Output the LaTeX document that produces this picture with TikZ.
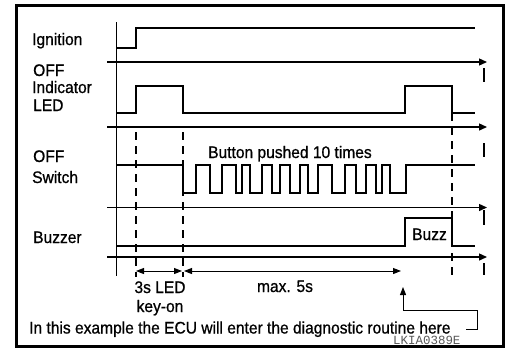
\documentclass[tikz,border=0pt]{standalone}
\usepackage{fontspec}
\setmainfont{Liberation Sans}[FakeStretch=0.93, FakeBold=0.8]
\newfontfamily\codefont{Liberation Mono}
\usetikzlibrary{arrows.meta}
\begin{document}
\begin{tikzpicture}[x=1bp,y=-1bp,
  lbl/.style={inner sep=0pt, font=\fontsize{16.8}{18}\selectfont},
  sig/.style={line width=1.2bp, line join=miter},
  axisline/.style={line width=1.3bp, -{Triangle[length=8bp,width=7bp]}},
  tickmark/.style={line width=2.2bp},
  guide/.style={line width=1.2bp, dash pattern=on 8bp off 6bp},
  dimarrow/.style={line width=1bp, {Triangle[length=8bp,width=6bp]}-{Triangle[length=8bp,width=6bp]}},
  callout/.style={line width=1bp, -{Triangle[length=8bp,width=6bp]}},
]
\useasboundingbox (0,0) rectangle (506,350);
\draw[line width=3bp] (16.5,5) rectangle (503,346.5);

% vertical axis
\draw[line width=1.3bp] (116.7,22) -- (116.7,276);

% time axes
\draw[axisline] (107,62) -- (487,62);
\draw[axisline] (107,127) -- (487,127);
\draw[axisline] (107,207.5) -- (487,207.5);
\draw[axisline] (107,257) -- (487,257);

% tick marks
\draw[tickmark] (484,68) -- (484,82);
\draw[tickmark] (484,143) -- (484,157);
\draw[tickmark] (484,210) -- (484,225);
\draw[tickmark] (484,263) -- (484,275);

% signals
\draw[sig] (116.7,48) -- (136,48) -- (136,28) -- (475,28);
\draw[sig] (116.7,113) -- (136,113) -- (136,86) -- (183,86) -- (183,113) -- (405,113) -- (405,86) -- (452,86) -- (452,113) -- (475,113);
\draw[sig] (116.7,165) -- (183,165) -- (183,193)
  -- (196,193) -- (196,165) -- (210,165) -- (210,193)
  -- (222,193) -- (222,165) -- (236,165) -- (236,193)
  -- (242,193) -- (242,165) -- (250,165) -- (250,193)
  -- (262,193) -- (262,165) -- (272,165) -- (272,193)
  -- (280,193) -- (280,165) -- (290,165) -- (290,193)
  -- (300,193) -- (300,165) -- (308,165) -- (308,193)
  -- (318,193) -- (318,165) -- (332,165) -- (332,193)
  -- (345,193) -- (345,165) -- (356,165) -- (356,193)
  -- (366,193) -- (366,165) -- (376,165) -- (376,193)
  -- (382,193) -- (382,165) -- (390,165) -- (390,193)
  -- (406,193) -- (406,165) -- (475,165);
\draw[sig] (116.7,246) -- (405,246) -- (405,218) -- (452,218) -- (452,246) -- (475,246);

% guides
\coordinate (g1t) at (136,132); \coordinate (g1b) at (136,277);
\coordinate (g2t) at (183,132); \coordinate (g2b) at (183,277);
\coordinate (g3t) at (452,113); \coordinate (g3b) at (452,278);
\draw[guide] (g1t) -- (g1b);
\draw[guide] (g2t) -- (g2b);
\draw[guide] (g3t) -- (g3b);

% dimension arrows
\coordinate (d1) at (136,271); \coordinate (d2) at (182,271);
\coordinate (d3) at (184,271); \coordinate (d4) at (401,271);
\draw[dimarrow] (d1) -- (d2);
\draw[dimarrow] (d3) -- (d4);

% labels
\node[lbl, anchor=base west] (ign) at (32,45) {Ignition};
\node[lbl, anchor=base west] (off1) at (33,76) {OFF};
\node[lbl, anchor=base west] (ind) at (32,93) {Indicator};
\node[lbl, anchor=base west] (led) at (33,111) {LED};
\node[lbl, anchor=base west] (off2) at (33,162) {OFF};
\node[lbl, anchor=base west] (sw) at (32,183) {Switch};
\node[lbl, anchor=base west] (buz) at (33,243) {Buzzer};
\node[lbl, anchor=base west] (btn) at (208,158) {Button pushed 10 times};
\node[lbl, anchor=base] (bz) at (429.5,240) {Buzz};
\node[lbl, anchor=base] (led3) at (160,293) {3s LED};
\node[lbl, anchor=base] (keyon) at (160,312) {key-on};
\node[lbl, anchor=base] (mx) at (285,292) {max. 5s};
\node[lbl, anchor=base west] (sent) at (29,333.5) {In this example the ECU will enter the diagnostic routine here};
\node[inner sep=0pt, anchor=base west, font=\codefont\fontsize{12.5}{12}\selectfont, text=black!65] (code) at (393,344.5) {LKIA0389E};

% callout
\coordinate (cstart) at (466,329);
\coordinate (entry) at (403,287);
\draw[callout] (cstart) -- (477,329) -- (477,310) -- (403,310) -- (entry);
\end{tikzpicture}
\end{document}
